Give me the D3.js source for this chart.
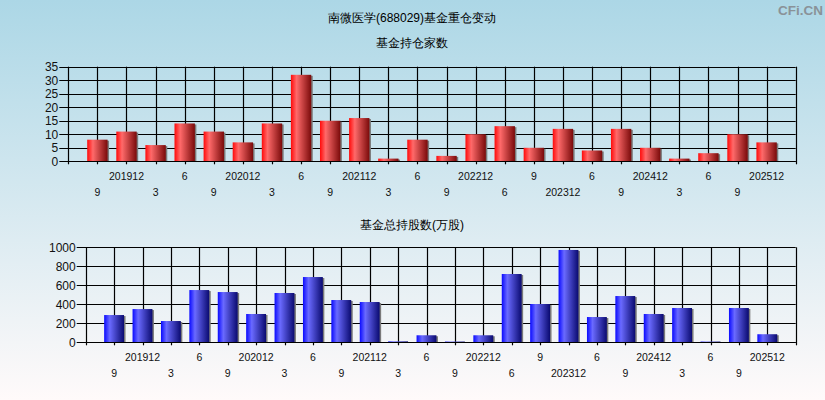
<!DOCTYPE html>
<html><head><meta charset="utf-8">
<script src="https://cdn.jsdelivr.net/npm/d3@7/dist/d3.min.js"></script>
<style>html,body{margin:0;padding:0;overflow:hidden;}</style>
</head><body>
<script>
const labels = ["9","201912","3","6","9","202012","3","6","9","202112","3","6","9","202212","6","9","202312","6","9","202412","3","6","9","202512"];
const fundCount = [8,11,6,14,11,7,14,32,15,16,1,8,2,10,13,5,12,4,12,5,1,3,10,7];
const fundShares = [287,350,224,550,529,298,519,687,445,424,10,74,8,74,719,403,972,266,487,298,361,8,361,85];
const countTicks = [0,5,10,15,20,25,30,35];
const shareTicks = [0,200,400,600,800,1000];

const W = 825, H = 400;
const svg = d3.select("body").append("svg").attr("width", W).attr("height", H)
  .style("font-family", "'Liberation Sans', Arial, sans-serif");
const defs = svg.append("defs");
const bg = defs.append("linearGradient").attr("id","bg").attr("x1",0).attr("y1",0).attr("x2",0).attr("y2",1);
bg.append("stop").attr("offset","0%").attr("stop-color","#acd7e6");
bg.append("stop").attr("offset","100%").attr("stop-color","#fffafa");
function barGrad(id, c0, c1, c2) {
  const g = defs.append("linearGradient").attr("id", id).attr("x1",0).attr("y1",0).attr("x2",1).attr("y2",0);
  g.append("stop").attr("offset","0%").attr("stop-color",c0);
  g.append("stop").attr("offset","28%").attr("stop-color",c1);
  g.append("stop").attr("offset","100%").attr("stop-color",c2);
}
barGrad("red", "#ff0a0a", "#ff6a6a", "#7a0a0a");
barGrad("blue", "#0a0aff", "#6a6aff", "#0a0a70");
svg.append("rect").attr("width", W).attr("height", H).attr("fill", "url(#bg)");

svg.append("text").attr("x", 412).attr("y", 22).attr("text-anchor","middle")
  .attr("font-size", 12).attr("fill","#000").text("南微医学(688029)基金重仓变动");
svg.append("text").attr("x", 823).attr("y", 15).attr("text-anchor","end")
  .attr("font-size", 13.5).attr("font-weight","bold").attr("fill","#8a9298").text("CFi.CN");

function panel(opts) {
  const {x0, x1, yTop, yBot, yMax, ticks, values, grad, title, titleY} = opts;
  const x = d3.scaleLinear().domain([0, labels.length + 1]).range([x0, x1]);
  const y = d3.scaleLinear().domain([0, yMax]).range([yBot, yTop]);
  const g = svg.append("g");
  svg.append("text").attr("x", 412).attr("y", titleY).attr("text-anchor","middle")
    .attr("font-size", 12).attr("fill","#000").text(title);
  const n = labels.length;
  const xt = d3.range(0, n + 2);
  // grid
  g.selectAll(".hg").data(ticks).join("line")
    .attr("x1", x0 - 9).attr("x2", x1)
    .attr("y1", d => Math.round(y(d)) + 0.5).attr("y2", d => Math.round(y(d)) + 0.5)
    .attr("stroke", "#000").attr("stroke-width", 1.2);
  g.selectAll(".vg").data(xt).join("line")
    .attr("x1", d => Math.round(x(d)) + 0.5).attr("x2", d => Math.round(x(d)) + 0.5)
    .attr("y1", yTop).attr("y2", yBot + 3)
    .attr("stroke", "#000").attr("stroke-width", 1.2);
  // y labels
  g.selectAll(".yl").data(ticks).join("text")
    .attr("x", x0 - 10).attr("y", d => y(d) + 4.5).attr("text-anchor","end")
    .attr("font-size", 12).attr("fill","#111").text(d => d);
  // bars
  const step = x(1) - x(0);
  const bw = step * 0.7;
  const bars = g.append("g");
  bars.selectAll(".sh").data(values).join("rect")
    .attr("x", (d,i) => x(i+1) - bw/2 + 1.5).attr("y", d => y(d) + 1)
    .attr("width", bw).attr("height", d => Math.max(0, yBot - y(d) - 1))
    .attr("fill", "#7a7a7a");
  bars.selectAll(".b").data(values).join("rect")
    .attr("x", (d,i) => x(i+1) - bw/2).attr("y", d => y(d))
    .attr("width", bw).attr("height", d => Math.max(1, yBot - y(d)))
    .attr("fill", `url(#${grad})`);
  // axis line redraw at bottom
  g.append("line").attr("x1", x0).attr("x2", x1).attr("y1", Math.round(yBot)+0.5).attr("y2", Math.round(yBot)+0.5)
    .attr("stroke","#000").attr("stroke-width",1.2);
  // x labels
  g.selectAll(".xl").data(labels).join("text")
    .attr("x", (d,i) => x(i+1)).attr("y", (d,i) => yBot + (i % 2 === 1 ? 18.5 : 35))
    .attr("text-anchor","middle").attr("font-size", 10.5).attr("fill","#111").text(d => d);
}

panel({x0: 68.3, x1: 795.7, yTop: 66.7, yBot: 161.3, yMax: 35, ticks: countTicks,
  values: fundCount, grad: "red", title: "基金持仓家数", titleY: 47});
panel({x0: 85.7, x1: 795.7, yTop: 247.3, yBot: 342.3, yMax: 1000, ticks: shareTicks,
  values: fundShares, grad: "blue", title: "基金总持股数(万股)", titleY: 228.5});
</script>
</body></html>
